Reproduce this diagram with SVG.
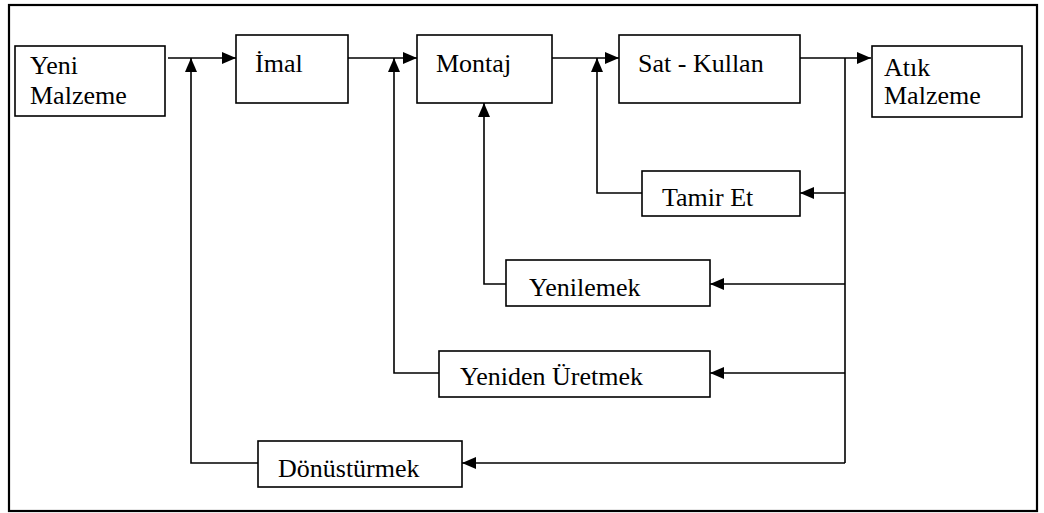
<svg xmlns="http://www.w3.org/2000/svg" width="1044" height="513" viewBox="0 0 1044 513">
  <style>
    .box { fill: #ffffff; stroke: #000000; stroke-width: 1.6; }
    .frame { fill: none; stroke: #000000; stroke-width: 2.2; }
    .line { fill: none; stroke: #000000; stroke-width: 1.6; }
  </style>
  <defs>
    <marker id="arrow" markerUnits="userSpaceOnUse" markerWidth="14" markerHeight="12" refX="14" refY="6" orient="auto">
      <path d="M0,0 L14,6 L0,12 z" fill="#000000"/>
    </marker>
  </defs>

  <rect width="1044" height="513" fill="#ffffff"/>
  <rect class="frame" x="9" y="5" width="1028" height="506"/>

  <g id="connectors">
    <path class="line" d="M168,58 H236" marker-end="url(#arrow)"/>
    <path class="line" d="M348,58 H417" marker-end="url(#arrow)"/>
    <path class="line" d="M552,58 H619" marker-end="url(#arrow)"/>
    <path class="line" d="M800,58 H871" marker-end="url(#arrow)"/>
    <path class="line" d="M845,58 V463"/>
    <path class="line" d="M845,193 H800" marker-end="url(#arrow)"/>
    <path class="line" d="M845,284 H710" marker-end="url(#arrow)"/>
    <path class="line" d="M845,373 H710" marker-end="url(#arrow)"/>
    <path class="line" d="M845,463 H462" marker-end="url(#arrow)"/>
    <path class="line" d="M642,193 H597 V58" marker-end="url(#arrow)"/>
    <path class="line" d="M506,284 H484 V103" marker-end="url(#arrow)"/>
    <path class="line" d="M439,373 H394 V58" marker-end="url(#arrow)"/>
    <path class="line" d="M258,463 H191 V58" marker-end="url(#arrow)"/>
  </g>

  <g font-family="Liberation Serif, serif" font-size="26" fill="#000000">
    <g id="yeni-malzeme">
      <rect class="box" x="15" y="46" width="150" height="70"/>
      <text x="30" y="74">Yeni</text>
      <text x="30" y="104">Malzeme</text>
    </g>
    <g id="imal">
      <rect class="box" x="236" y="35" width="112" height="68"/>
      <text x="255" y="72">İmal</text>
    </g>
    <g id="montaj">
      <rect class="box" x="417" y="35" width="135" height="68"/>
      <text x="436" y="72">Montaj</text>
    </g>
    <g id="sat-kullan">
      <rect class="box" x="619" y="35" width="181" height="68"/>
      <text x="638" y="72">Sat - Kullan</text>
    </g>
    <g id="atik-malzeme">
      <rect class="box" x="872" y="46" width="150" height="71"/>
      <text x="884" y="76">Atık</text>
      <text x="884" y="104">Malzeme</text>
    </g>
    <g id="tamir-et">
      <rect class="box" x="642" y="171" width="158" height="45"/>
      <text x="662" y="206">Tamir Et</text>
    </g>
    <g id="yenilemek">
      <rect class="box" x="506" y="260" width="204" height="46"/>
      <text x="529" y="296">Yenilemek</text>
    </g>
    <g id="yeniden-uretmek">
      <rect class="box" x="439" y="351" width="271" height="46"/>
      <text x="460" y="385">Yeniden Üretmek</text>
    </g>
    <g id="donusturmek">
      <rect class="box" x="258" y="441" width="204" height="46"/>
      <text x="278" y="477">Dönüstürmek</text>
    </g>
  </g>
</svg>
